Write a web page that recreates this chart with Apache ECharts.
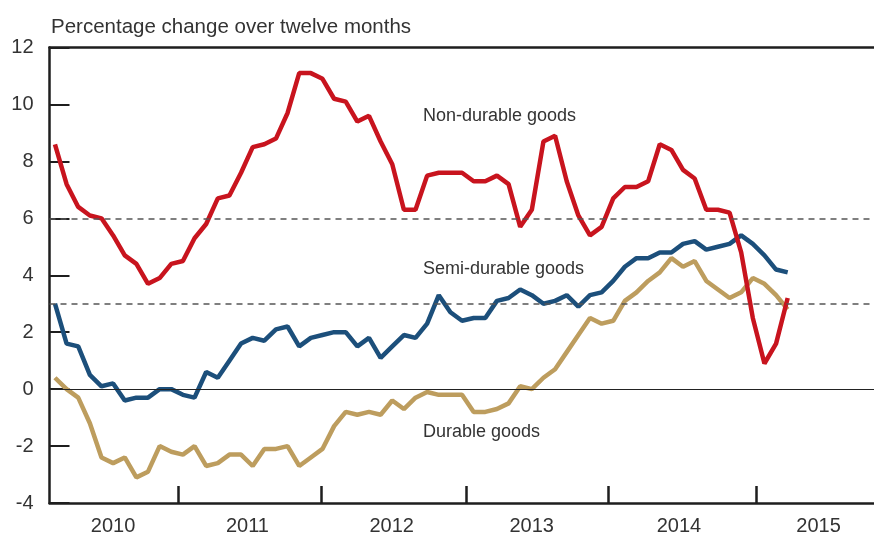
<!DOCTYPE html>
<html>
<head>
<meta charset="utf-8">
<script src="https://cdn.jsdelivr.net/npm/echarts@6/dist/echarts.min.js"></script>
<style>
    * { margin: 0; padding: 0; }
    body { background: #fff; }
    #chart { width: 874px; height: 536px; }
</style>
</head>
<body>
<div id="chart"></div>
<script>
    // monthly observations, Jan 2010 - Apr 2015
    var months = [];
    for (var y = 2010; y <= 2015; y++) {
        for (var m = 1; m <= 12; m++) {
            if (y === 2015 && m > 4) break;
            months.push(y + '-' + (m < 10 ? '0' + m : m));
        }
    }

    var nonDurable = [
        8.6, 7.2, 6.4, 6.1, 6.0, 5.4, 4.7, 4.4, 3.7, 3.9, 4.4, 4.5,
        5.3, 5.8, 6.7, 6.8, 7.6, 8.5, 8.6, 8.8, 9.7, 11.1, 11.1, 10.9,
        10.2, 10.1, 9.4, 9.6, 8.7, 7.9, 6.3, 6.3, 7.5, 7.6, 7.6, 7.6,
        7.3, 7.3, 7.5, 7.2, 5.7, 6.3, 8.7, 8.9, 7.3, 6.1, 5.4, 5.7,
        6.7, 7.1, 7.1, 7.3, 8.6, 8.4, 7.7, 7.4, 6.3, 6.3, 6.2, 4.8,
        2.5, 0.9, 1.6, 3.2
    ];
    var semiDurable = [
        3.0, 1.6, 1.5, 0.5, 0.1, 0.2, -0.4, -0.3, -0.3, 0.0, 0.0, -0.2,
        -0.3, 0.6, 0.4, 1.0, 1.6, 1.8, 1.7, 2.1, 2.2, 1.5, 1.8, 1.9,
        2.0, 2.0, 1.5, 1.8, 1.1, 1.5, 1.9, 1.8, 2.3, 3.3, 2.7, 2.4,
        2.5, 2.5, 3.1, 3.2, 3.5, 3.3, 3.0, 3.1, 3.3, 2.9, 3.3, 3.4,
        3.8, 4.3, 4.6, 4.6, 4.8, 4.8, 5.1, 5.2, 4.9, 5.0, 5.1, 5.4,
        5.1, 4.7, 4.2, 4.1
    ];
    var durable = [
        0.4, 0.0, -0.3, -1.2, -2.4, -2.6, -2.4, -3.1, -2.9, -2.0, -2.2, -2.3,
        -2.0, -2.7, -2.6, -2.3, -2.3, -2.7, -2.1, -2.1, -2.0, -2.7, -2.4, -2.1,
        -1.3, -0.8, -0.9, -0.8, -0.9, -0.4, -0.7, -0.3, -0.1, -0.2, -0.2, -0.2,
        -0.8, -0.8, -0.7, -0.5, 0.1, 0.0, 0.4, 0.7, 1.3, 1.9, 2.5, 2.3,
        2.4, 3.1, 3.4, 3.8, 4.1, 4.6, 4.3, 4.5, 3.8, 3.5, 3.2, 3.4,
        3.9, 3.7, 3.3, 2.8
    ];

    var yearLabels = ['2010', '2011', '2012', '2013', '2014', '2015'];
    // positions on the month scale (0 = first observation)
    var yearTicks = [10.6, 22.93, 35.4, 47.55, 60.33];
    var yearLabelPos = [4.99, 16.55, 28.95, 40.99, 53.65, 65.65];
    var refLines = [6, 3];

    var FONT = '"Liberation Sans", Arial, sans-serif';
    var TEXT = '#333';
    var AXIS = '#1e1e1e';

    function toPairs(arr) {
        return arr.map(function (v, i) { return [i, v]; });
    }

    var chart = echarts.init(document.getElementById('chart'));
    var option = {
        animation: false,
        backgroundColor: '#fff',
        textStyle: { fontFamily: FONT },
        title: {
            text: 'Percentage change over twelve months',
            left: 46, top: 12,
            textStyle: { fontFamily: FONT, fontSize: 20.5, fontWeight: 'normal', color: TEXT }
        },
        grid: { left: 49.5, right: 0, top: 47.5, bottom: 32.5 },
        xAxis: [
            {
                type: 'value', position: 'bottom',
                min: -0.47, max: 70.42,
                splitLine: { show: false },
                axisLine: { show: true, onZero: false, lineStyle: { color: AXIS, width: 2.5 } },
                axisTick: {
                    show: true, inside: true, length: 17,
                    customValues: yearTicks,
                    lineStyle: { color: AXIS, width: 2.5 }
                },
                axisLabel: {
                    customValues: yearLabelPos,
                    margin: 13,
                    fontSize: 20, color: TEXT, fontFamily: FONT,
                    formatter: function (v) {
                        var k = 0, best = 1e9;
                        yearLabelPos.forEach(function (p, i) {
                            if (Math.abs(p - v) < best) { best = Math.abs(p - v); k = i; }
                        });
                        return yearLabels[k];
                    }
                }
            },
            {
                type: 'value', position: 'top',
                min: -0.47, max: 70.42,
                splitLine: { show: false },
                axisLine: { show: true, onZero: false, lineStyle: { color: AXIS, width: 2.5 } },
                axisTick: { show: false },
                axisLabel: { show: false }
            }
        ],
        yAxis: {
            type: 'value',
            min: -4, max: 12, interval: 2,
            splitLine: { show: false },
            axisLine: { show: true, onZero: false, lineStyle: { color: AXIS, width: 2.5 } },
            axisTick: { show: true, inside: true, length: 20, lineStyle: { color: AXIS, width: 2 } },
            axisLabel: { margin: 16, fontSize: 20, color: TEXT, fontFamily: FONT }
        },
        graphic: [
            { type: 'text', left: 423, top: 107, style: { text: 'Non-durable goods', fontSize: 18, fontFamily: FONT, fill: TEXT } },
            { type: 'text', left: 423, top: 260, style: { text: 'Semi-durable goods', fontSize: 18, fontFamily: FONT, fill: TEXT } },
            { type: 'text', left: 423, top: 423, style: { text: 'Durable goods', fontSize: 18, fontFamily: FONT, fill: TEXT } }
        ],
        series: [
            {
                name: 'Durable goods', type: 'line',
                data: toPairs(durable),
                showSymbol: false, symbol: 'none',
                lineStyle: { color: '#BD9D5E', width: 4.5 },
                markLine: {
                    silent: true, symbol: ['none', 'none'],
                    label: { show: false },
                    data: refLines.map(function (v) {
                        return { yAxis: v, lineStyle: { color: '#555', width: 1.5, type: [6, 5] } };
                    }).concat([{ yAxis: 0, lineStyle: { color: '#222', width: 1.2, type: 'solid' } }])
                }
            },
            {
                name: 'Semi-durable goods', type: 'line',
                data: toPairs(semiDurable),
                showSymbol: false, symbol: 'none',
                lineStyle: { color: '#1C4F7B', width: 4.5 }
            },
            {
                name: 'Non-durable goods', type: 'line',
                data: toPairs(nonDurable),
                showSymbol: false, symbol: 'none',
                lineStyle: { color: '#C8141E', width: 4.5 }
            }
        ]
    };
    chart.setOption(option);
</script>
</body>
</html>
